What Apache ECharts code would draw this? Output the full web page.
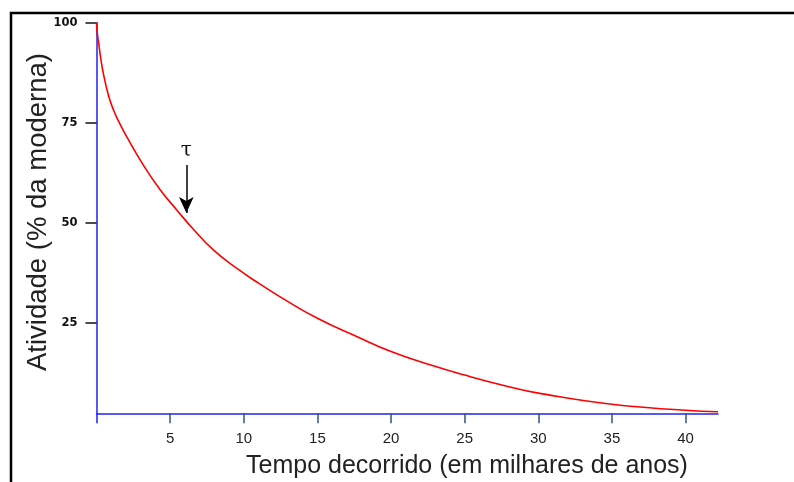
<!DOCTYPE html>
<html>
<head>
<meta charset="utf-8">
<script src="https://cdn.jsdelivr.net/npm/echarts@6/dist/echarts.min.js"></script>
<style>
html,body{margin:0;padding:0;background:#fff;}
#chart{width:794px;height:482px;}
</style>
</head>
<body>
<div id="chart"></div>
<script>
// Elapsed time (thousands of years) and activity (% of modern)
const ages = [0, 0.05, 0.15, 0.28, 0.46, 0.8, 1.14, 1.55, 2.05, 3.18, 4.31, 5.45, 6.47, 7.93, 9.75, 11, 12.5, 15, 17.7, 20, 22.7, 25, 28, 30, 35, 40, 42.2];
const activity = [100, 97.5, 94.8, 91.3, 87.4, 82, 78.3, 75, 71.5, 64.4, 58.3, 53.2, 48.8, 43.2, 38.0, 34.9, 31.4, 26.1, 21.5, 17.8, 14.4, 11.9, 9.0, 7.4, 4.6, 3.1, 2.75];
const xTicks = [5, 10, 15, 20, 25, 30, 35, 40];
const yTicks = [25, 50, 75, 100];
// tau annotation: arrow from (6.1, 64.4) down to (6.1, 52.4)
const tauAt = 6.1;
const tauArrow = [64.4, 52.4];
const xTitle = 'Tempo decorrido (em milhares de anos)';
const yTitle = 'Atividade (% da moderna)';

const chart = echarts.init(document.getElementById('chart'), null, {renderer: 'canvas'});
chart.setOption({
  backgroundColor: '#ffffff',
  animation: false,
  grid: {left: 96.5, right: 76, top: 22.7, bottom: 59.3, containLabel: false},
  xAxis: {
    type: 'value', min: 0, max: 42.2, offset: -9.4,
    splitLine: {show: false},
    axisLine: {show: true, lineStyle: {color: '#2222ee', width: 1.5}},
    axisTick: {show: true, customValues: xTicks, length: 10, inside: false, lineStyle: {color: '#335577', width: 1.5}},
    axisLabel: {show: true, customValues: xTicks, margin: 18, fontFamily: 'Liberation Sans, Arial', fontSize: 15, color: '#222'}
  },
  yAxis: {
    type: 'value', min: 0, max: 100,
    splitLine: {show: false},
    axisLine: {show: true, lineStyle: {color: '#2222ee', width: 1.5}},
    axisTick: {show: true, customValues: yTicks, length: 11, lineStyle: {color: '#111', width: 1.5}},
    axisLabel: {show: true, customValues: yTicks, margin: 19, fontFamily: 'DejaVu Sans', fontWeight: 'bold', fontSize: 11.5, color: '#111'}
  },
  series: [{
    type: 'line',
    data: ages.map((a, i) => [a, activity[i]]),
    smooth: 0.5,
    showSymbol: false,
    lineStyle: {color: '#ff0000', width: 1.6},
    markLine: {
      silent: true,
      symbol: ['none', 'arrow'],
      symbolSize: [11, 16],
      lineStyle: {color: '#000', width: 1.5, type: 'solid'},
      label: {show: true, position: 'start', formatter: 'τ', fontFamily: 'DejaVu Serif', fontSize: 20, color: '#111', distance: 4},
      data: [[{coord: [tauAt, tauArrow[0]]}, {coord: [tauAt, tauArrow[1]]}]]
    }
  }],
  graphic: [
    {type: 'polyline', shape: {points: [[11, 482], [11, 13], [794, 13]]}, style: {stroke: '#000', lineWidth: 2.5, fill: null}},
    {type: 'text', x: 467, y: 466, style: {text: xTitle, align: 'center', verticalAlign: 'middle', font: '25px "Liberation Sans", Arial', fill: '#222'}},
    {type: 'text', x: 38, y: 212, rotation: Math.PI / 2, style: {text: yTitle, align: 'center', verticalAlign: 'middle', font: '27.5px "Liberation Sans", Arial', fill: '#222'}}
  ]
});
</script>
</body>
</html>
